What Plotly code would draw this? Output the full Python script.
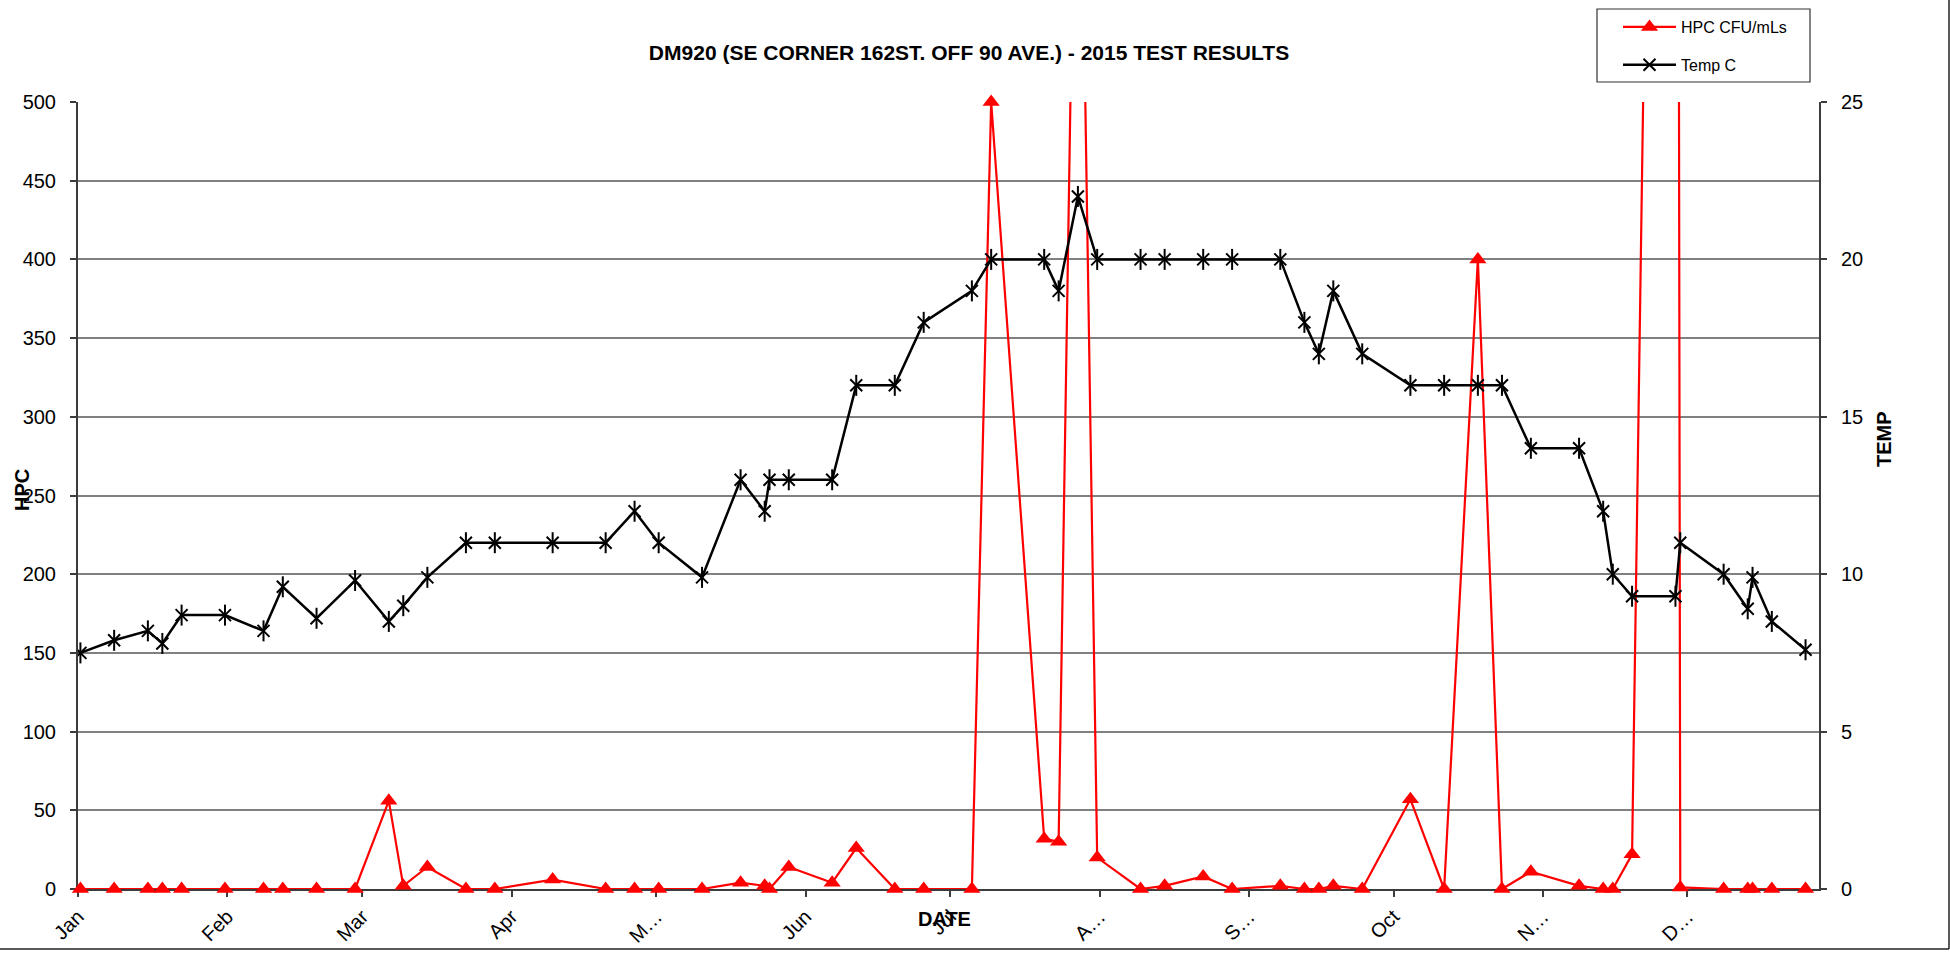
import pandas as pd
import plotly.graph_objects as go

# Sampling dates for DM920 during 2015
sample_dates = [
    "2015-01-01", "2015-01-08", "2015-01-15", "2015-01-18", "2015-01-22",
    "2015-01-31", "2015-02-08", "2015-02-12", "2015-02-19", "2015-02-27",
    "2015-03-06", "2015-03-09", "2015-03-14", "2015-03-22", "2015-03-28",
    "2015-04-09", "2015-04-20", "2015-04-26", "2015-05-01", "2015-05-10",
    "2015-05-18", "2015-05-23", "2015-05-24", "2015-05-28", "2015-06-06",
    "2015-06-11", "2015-06-19", "2015-06-25", "2015-07-05", "2015-07-09",
    "2015-07-20", "2015-07-23", "2015-07-27", "2015-07-31", "2015-08-09",
    "2015-08-14", "2015-08-22", "2015-08-28", "2015-09-07", "2015-09-12",
    "2015-09-15", "2015-09-18", "2015-09-24", "2015-10-04", "2015-10-11",
    "2015-10-18", "2015-10-23", "2015-10-29", "2015-11-08", "2015-11-13",
    "2015-11-15", "2015-11-19", "2015-11-28", "2015-11-29", "2015-12-08",
    "2015-12-13", "2015-12-14", "2015-12-18", "2015-12-25",
]

# Heterotrophic plate count (CFU/mL)
hpc_cfu = [
    0, 0, 0, 0, 0,
    0, 0, 0, 0, 0,
    56, 2, 14, 0, 0,
    6, 0, 0, 0, 0,
    4, 2, 0, 14, 4,
    26, 0, 0, 0, 500,
    32, 30, 800, 20, 0,
    2, 8, 0, 2, 0,
    0, 2, 0, 57, 0,
    400, 0, 11, 2, 0,
    0, 22, 1900, 1, 0,
    0, 0, 0, 0,
]

# Water temperature (deg C)
temp_c = [
    7.5, 7.9, 8.2, 7.8, 8.7,
    8.7, 8.2, 9.6, 8.6, 9.8,
    8.5, 9.0, 9.9, 11, 11,
    11, 11, 12, 11, 9.9,
    13, 12, 13, 13, 13,
    16, 16, 18, 19, 20,
    20, 19, 22, 20, 20,
    20, 20, 20, 20, 18,
    17, 19, 17, 16, 16,
    16, 16, 14, 14, 12,
    10, 9.3, 9.3, 11, 10,
    8.9, 9.9, 8.5, 7.6,
]

month_labels = ["Jan", "Feb", "Mar", "Apr", "M…", "Jun",
                "Jul", "A…", "S…", "Oct", "N…", "D…"]

FONT = "Liberation Sans, Arial, sans-serif"
AXIS_COLOR = "#3c3c3c"
GRID_COLOR = "#808080"

# Page and plot-area geometry (px)
W, H = 1950, 953
L, R, T, B = 78, 131, 102, 64
plot_w = W - L - R
plot_h = H - T - B


def px_x(px):
    return (px - L) / plot_w


def px_y(py):
    return (H - B - py) / plot_h


# Date axis with each sample centred in its day, month boundaries as ticks
x_vals = pd.to_datetime(sample_dates) + pd.Timedelta(hours=12)
month_starts = pd.date_range("2015-01-01", periods=12, freq="MS")

fig = go.Figure()

fig.add_trace(go.Scatter(
    x=x_vals, y=hpc_cfu, name="HPC CFU/mLs", mode="lines+markers",
    line=dict(color="#ff0000", width=2.2),
    marker=dict(symbol="triangle-up", size=15, color="#ff0000"),
    cliponaxis=False, legendgroup="hpc",
))

fig.add_trace(go.Scatter(
    x=x_vals, y=temp_c, name="Temp C", yaxis="y2", mode="lines+markers",
    line=dict(color="#000000", width=2.5),
    marker=dict(symbol="x-thin-open", size=12, color="#000000",
                line=dict(color="#000000", width=2)),
    legendgroup="temp",
))

# vertical stroke that turns the x marker into a six-point star
fig.add_trace(go.Scatter(
    x=x_vals, y=temp_c, yaxis="y2", mode="markers", showlegend=False,
    hoverinfo="skip",
    marker=dict(symbol="line-ns-open", size=15, color="#000000",
                line=dict(color="#000000", width=2)),
))

fig.update_layout(
    width=W, height=H,
    margin=dict(l=L, r=R, t=T, b=B, autoexpand=False),
    paper_bgcolor="white", plot_bgcolor="white",
    font=dict(family=FONT, color="#000000"),
    title=dict(
        text="<b>DM920 (SE CORNER 162ST. OFF 90 AVE.) - 2015 TEST RESULTS</b>",
        x=px_x(969), xanchor="center", xref="paper",
        y=1 - 53 / H, yanchor="middle", yref="container",
        font=dict(size=21, family=FONT, color="#000000"),
    ),
    xaxis=dict(
        type="date", automargin=False,
        range=["2015-01-01", "2015-12-28 07:00"],
        tickmode="array", tickvals=month_starts, ticktext=month_labels,
        tickangle=-45, tickfont=dict(size=20, family=FONT),
        ticks="outside", ticklen=6, tickwidth=1.5, tickcolor=AXIS_COLOR,
        showline=True, linecolor=AXIS_COLOR, linewidth=2,
        showgrid=False, zeroline=False, layer="below traces",
    ),
    yaxis=dict(
        range=[0, 500], tickmode="linear", tick0=0, dtick=50,
        automargin=False,
        tickfont=dict(size=20, family=FONT),
        ticks="outside", ticklen=6, tickwidth=1.5, tickcolor=AXIS_COLOR,
        ticklabelstandoff=10,
        showline=True, linecolor=AXIS_COLOR, linewidth=2,
        showgrid=True, gridcolor=GRID_COLOR, gridwidth=1.5,
        zeroline=False, layer="below traces",
    ),
    yaxis2=dict(
        range=[0, 25], tickmode="linear", tick0=0, dtick=5,
        overlaying="y", side="right", automargin=False,
        tickfont=dict(size=20, family=FONT),
        ticks="outside", ticklen=6, tickwidth=1.5, tickcolor=AXIS_COLOR,
        ticklabelstandoff=10,
        showline=True, linecolor=AXIS_COLOR, linewidth=2,
        showgrid=False, zeroline=False, layer="below traces",
    ),
    legend=dict(
        x=px_x(1618), xanchor="left", y=px_y(10), yanchor="top",
        bgcolor="rgba(0,0,0,0)", borderwidth=0,
        font=dict(size=16, family=FONT),
        tracegroupgap=14, itemwidth=53,
    ),
    showlegend=True,
    annotations=[
        dict(text="<b>HPC</b>", x=px_x(22), y=px_y(490), xref="paper",
             yref="paper", textangle=-90, showarrow=False,
             xanchor="center", yanchor="middle",
             font=dict(size=20, family=FONT)),
        dict(text="<b>TEMP</b>", x=px_x(1884), y=px_y(439), xref="paper",
             yref="paper", textangle=-90, showarrow=False,
             xanchor="center", yanchor="middle",
             font=dict(size=20, family=FONT)),
        dict(text="<b>DATE</b>", x=px_x(944), y=px_y(919), xref="paper",
             yref="paper", showarrow=False,
             xanchor="center", yanchor="middle",
             font=dict(size=20, family=FONT)),
    ],
    shapes=[
        # legend frame
        dict(type="rect", xref="paper", yref="paper",
             x0=px_x(1597), x1=px_x(1810), y0=px_y(82), y1=px_y(9),
             line=dict(color="#333333", width=1.2), fillcolor="rgba(0,0,0,0)"),
        # chart-area border (bottom and right edges)
        dict(type="line", xref="paper", yref="paper",
             x0=px_x(0), x1=px_x(1949), y0=px_y(949), y1=px_y(949),
             line=dict(color="#222222", width=1.5)),
        dict(type="line", xref="paper", yref="paper",
             x0=px_x(1949), x1=px_x(1949), y0=px_y(0), y1=px_y(949),
             line=dict(color="#222222", width=1.5)),
    ],
)

fig.write_html("out.html")
